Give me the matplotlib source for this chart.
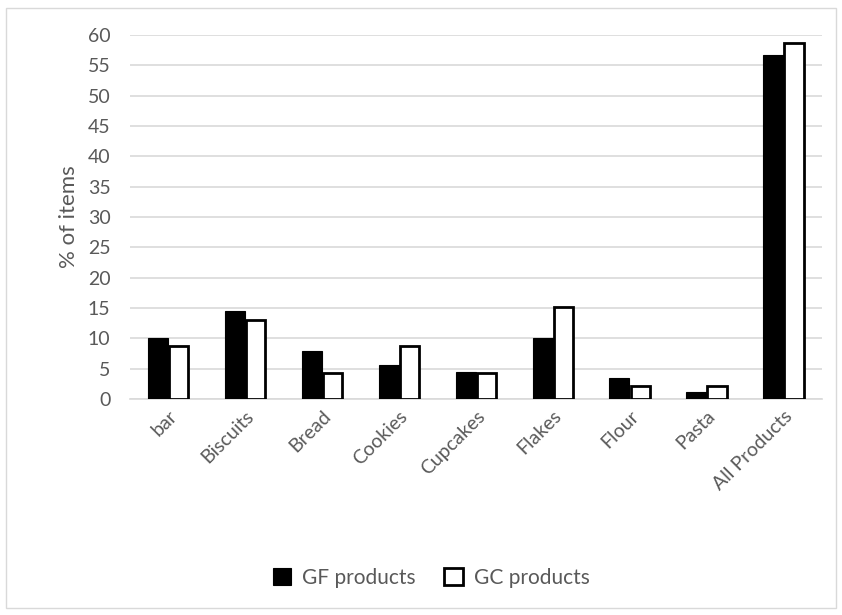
import matplotlib.pyplot as plt
import matplotlib.patches as mpatches
import numpy as np

categories = ['bar', 'Biscuits', 'Bread', 'Cookies', 'Cupcakes', 'Flakes', 'Flour', 'Pasta', 'All Products']
gf_products = [10.1, 14.5, 7.9, 5.6, 4.5, 10.1, 3.4, 1.2, 56.7]
gc_products = [8.7, 13.0, 4.3, 8.7, 4.3, 15.2, 2.2, 2.2, 58.7]
y_ticks = list(range(0, 65, 5))

plt.rcParams['font.family'] = ['Lato', 'DejaVu Sans']
text_color = '#595959'
grid_color = '#d9d9d9'

fig = plt.figure(figsize=(8.42, 6.15), dpi=100)
ax = fig.add_axes([130 / 842, 1 - 399 / 615, 692 / 842, 364 / 615])

# chart frame
fig.patches.append(mpatches.Rectangle((6 / 842, 7 / 615), 830 / 842, 600 / 615,
                                      transform=fig.transFigure, fill=False,
                                      edgecolor=grid_color, linewidth=1))

x = np.arange(len(categories))
w = 0.26
ax.bar(x - w / 2 - 0.005, gf_products, width=w, color='black', edgecolor='black',
       linewidth=0.8, label='GF products', zorder=3)
ax.bar(x + w / 2 + 0.005, gc_products, width=w - 0.01, color='white', edgecolor='black',
       linewidth=2.0, label='GC products', zorder=3)

ax.set_xlim(-0.5, len(categories) - 0.5)
ax.set_ylim(0, 60)
ax.set_yticks(y_ticks)
ax.yaxis.grid(True, color=grid_color, linewidth=1.2, zorder=0)
ax.set_axisbelow(True)
for side in ['top', 'right', 'left']:
    ax.spines[side].set_visible(False)
ax.spines['bottom'].set_color(grid_color)
ax.spines['bottom'].set_linewidth(1.2)
ax.tick_params(axis='both', length=0, labelsize=14, labelcolor=text_color)
ax.tick_params(axis='y', pad=14)
ax.tick_params(axis='x', pad=6)
ax.set_xticks(x)
ax.set_xticklabels(categories, rotation=45, ha='right', rotation_mode='anchor')
ax.set_ylabel('% of items', fontsize=16, color=text_color, labelpad=6)

# legend sits centred under the whole chart frame
handles, labels = ax.get_legend_handles_labels()
fig.legend(handles, labels, loc='center', bbox_to_anchor=(431 / 842, 1 - 578 / 615),
           ncol=2, frameon=False, fontsize=15, labelcolor=text_color,
           handlelength=0.9, handleheight=0.9, columnspacing=1.4, handletextpad=0.5)

fig.savefig('out.png', dpi=100)
